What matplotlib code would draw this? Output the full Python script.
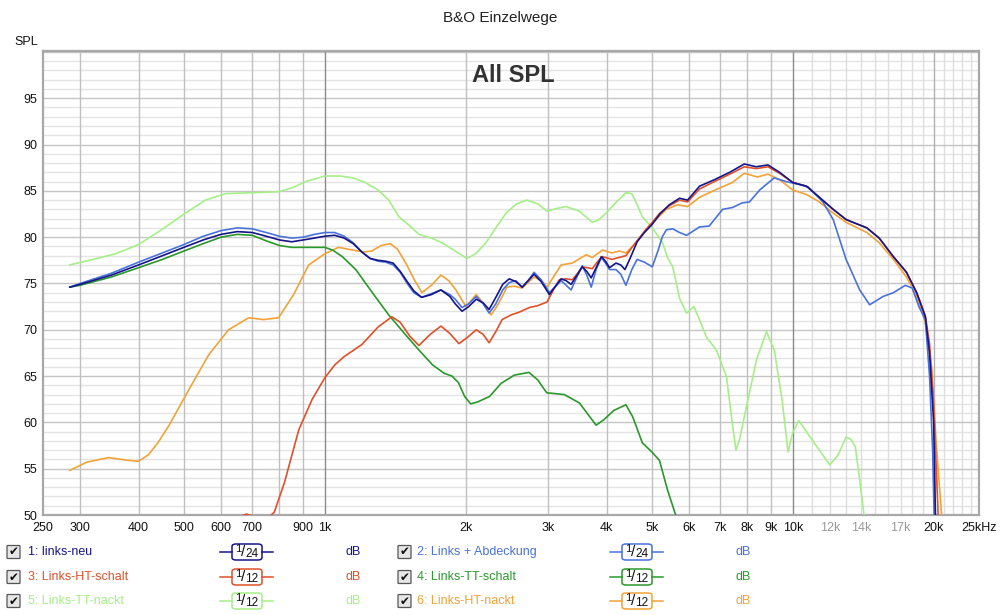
import matplotlib
matplotlib.use("Agg")
import matplotlib.pyplot as plt
from matplotlib.patches import FancyBboxPatch
from matplotlib.lines import Line2D

plt.rcParams['font.family'] = ['Liberation Sans', 'DejaVu Sans']

# ---------------- data ----------------
names = ["1: links-neu", "2: Links + Abdeckung", "3: Links-HT-schalt",
         "4: Links-TT-schalt", "5: Links-TT-nackt", "6: Links-HT-nackt"]
colors = ["#16168a", "#4a72dc", "#e0502a", "#2a982a", "#a6ee88", "#f2a238"]
smoothing = ["24", "24", "12", "12", "12", "12"]

f1 = [285, 300, 350, 400, 450, 500, 550, 600, 650, 700, 750, 800, 850, 900, 950, 1000, 1050, 1100, 1150,
      1200, 1250, 1300, 1350, 1400, 1450, 1500, 1550, 1610, 1690, 1770, 1850, 1900, 1965, 2030, 2107, 2180,
      2245, 2320, 2400, 2478, 2560, 2642, 2720, 2800, 2900, 3020, 3100, 3200, 3280, 3360, 3450, 3550, 3630,
      3710, 3800, 3900, 3980, 4060, 4190, 4290, 4380, 4500, 4650, 4820, 5010, 5200, 5450, 5730, 5960, 6320,
      6800, 7330, 7880, 8350, 8850, 9370, 10000, 10700, 11400, 12200, 13000, 14400, 15300, 16400, 17500,
      18400, 19200, 19600, 20000, 20250]
s1 = [74.6, 74.9, 75.9, 77.0, 78.0, 78.9, 79.7, 80.3, 80.6, 80.5, 80.1, 79.7, 79.5, 79.7, 79.9, 80.1, 80.2, 79.9, 79.3,
      78.4, 77.7, 77.5, 77.4, 77.2, 76.3, 75.2, 74.2, 73.5, 73.8, 74.3, 73.6, 72.8, 72.0, 72.5, 73.3, 72.9,
      72.2, 73.5, 74.9, 75.5, 75.2, 74.6, 75.3, 76.0, 75.2, 73.8, 74.6, 75.5, 75.3, 74.9, 75.8, 76.8, 76.3,
      75.6, 76.7, 77.9, 77.4, 76.7, 77.2, 77.0, 76.5, 77.8, 79.5, 80.5, 81.4, 82.5, 83.5, 84.2, 84.0, 85.5,
      86.2, 87.0, 87.9, 87.6, 87.8, 87.0, 85.9, 85.5, 84.3, 83.0, 81.9, 81.0, 79.9, 77.9, 76.2,
      74.0, 71.4, 67.5, 60.0, 46.0]

f2 = [285, 300, 350, 400, 450, 500, 550, 600, 650, 700, 750, 800, 850, 900, 950, 1000, 1050, 1100, 1150,
      1200, 1250, 1300, 1350, 1400, 1450, 1500, 1550, 1610, 1690, 1770, 1850, 1900, 1965, 2030, 2107, 2180,
      2245, 2320, 2400, 2478, 2560, 2642, 2720, 2800, 2900, 3020, 3100, 3200, 3280, 3360, 3450, 3550, 3630,
      3710, 3800, 3900, 3980, 4060, 4190, 4290, 4400, 4530, 4650, 4820, 5010, 5150, 5270, 5370, 5540, 5730,
      5930, 6320, 6630, 7080, 7430, 7800, 8080, 8500, 9130, 9670, 10300, 10800, 11600, 12200, 13000, 13900,
      14600, 15600, 16400, 17400, 18000, 18600, 19200, 19600, 19900, 20150]
s2 = [74.6, 75.0, 76.1, 77.3, 78.3, 79.2, 80.1, 80.7, 81.0, 80.9, 80.5, 80.1, 79.9, 80.0, 80.3, 80.5, 80.5, 80.1, 79.4,
      78.4, 77.7, 77.4, 77.3, 77.0, 76.2, 75.0, 74.0, 73.5, 73.9, 74.3, 73.8, 73.3, 72.4, 72.8, 73.6, 72.8,
      71.8, 72.8, 74.3, 75.1, 75.3, 74.6, 75.3, 76.2, 75.4, 74.0, 74.6, 75.3, 74.8, 74.3, 75.6, 76.9, 75.9,
      74.6, 76.5, 77.8, 77.2, 76.5, 76.5, 76.0, 74.8, 76.5, 77.6, 77.3, 76.8, 78.5, 80.1, 80.8, 80.9, 80.5,
      80.2, 81.1, 81.2, 83.0, 83.2, 83.7, 83.8, 85.1, 86.4, 86.0, 85.7, 85.4, 83.8, 81.9, 77.6, 74.3,
      72.7, 73.6, 74.0, 74.8, 74.5, 72.5, 71.1, 65.0, 57.0, 45.0]

f3 = [600, 640, 680, 720, 750, 780, 820, 880, 940, 1000, 1050, 1100, 1200, 1300, 1391, 1450, 1520, 1589, 1680,
      1771, 1850, 1935, 2020, 2107, 2180, 2245, 2320, 2393, 2500, 2603, 2735, 2850, 2985, 3080, 3170, 3280,
      3380, 3470, 3550, 3640, 3730, 3820, 3920, 4110, 4250, 4400, 4550, 4700, 4850, 5010, 5200, 5450, 5730,
      5960, 6320, 6800, 7330, 7880, 8350, 8850, 9370, 10000, 10700, 11400, 12200, 13000, 14400, 15300, 16400,
      17500, 18400, 19200, 19600, 20000, 20450, 20650]
s3 = [48.0, 49.6, 50.1, 49.7, 49.5, 50.3, 53.5, 59.2, 62.5, 64.8, 66.2, 67.1, 68.4, 70.3, 71.4, 70.8, 69.3, 68.3, 69.5,
      70.4, 69.6, 68.5, 69.2, 70.0, 69.5, 68.6, 69.8, 71.1, 71.6, 71.9, 72.4, 72.6, 73.0, 74.3, 75.4, 75.5,
      75.4, 76.1, 76.8, 76.7, 76.6, 77.3, 77.9, 77.6, 77.8, 78.0, 79.0, 79.9, 80.8, 81.6, 82.6, 83.4, 84.0,
      83.8, 85.2, 86.0, 86.8, 87.6, 87.4, 87.6, 86.9, 85.9, 85.5, 84.3, 83.0, 81.9, 81.0, 79.9, 77.9,
      76.2, 74.0, 71.5, 68.5, 62.0, 50.0, 45.0]

f4 = [285, 300, 350, 400, 450, 500, 550, 600, 650, 700, 750, 800, 850, 900, 950, 1000, 1040, 1090, 1165, 1260, 1370,
      1480, 1590, 1700, 1800, 1870, 1930, 1990, 2050, 2120, 2250, 2380, 2540, 2730, 2850, 2980, 3250, 3500,
      3800, 3950, 4150, 4400, 4550, 4770, 5000, 5190, 5400, 5620, 5700]
s4 = [74.6, 74.8, 75.7, 76.7, 77.6, 78.5, 79.3, 80.0, 80.3, 80.2, 79.6, 79.1, 78.9, 78.9, 78.9, 78.9, 78.6, 77.9, 76.5, 74.1, 71.6,
      69.6, 67.8, 66.2, 65.3, 65.0, 64.3, 62.8, 62.0, 62.2, 62.8, 64.2, 65.1, 65.4, 64.6, 63.2, 63.0, 62.1,
      59.7, 60.3, 61.3, 61.9, 60.6, 57.8, 56.8, 55.9, 52.7, 50.0, 48.0]

f5 = [285, 320, 357, 400, 448, 504, 556, 614, 698, 797, 860, 910, 1000, 1080, 1150, 1220, 1300, 1370, 1440, 1520,
      1590, 1690, 1780, 1900, 2013, 2100, 2210, 2320, 2440, 2570, 2705, 2850, 2985, 3130, 3280, 3500, 3730,
      3860, 3990, 4200, 4400, 4530, 4650, 4770, 5010, 5270, 5400, 5540, 5730, 5930, 6150, 6330, 6540, 6870,
      7220, 7400, 7560, 7700, 7940, 8370, 8790, 9130, 9490, 9770, 10000, 10300, 11000, 12000, 12500, 13000,
      13300, 13600, 13900, 14200, 14300]
s5 = [77.0, 77.6, 78.2, 79.2, 80.8, 82.6, 84.0, 84.7, 84.8, 84.9, 85.4, 86.0, 86.6, 86.6, 86.4, 85.9, 85.1, 84.0, 82.2, 81.2,
      80.3, 79.9, 79.4, 78.5, 77.7, 78.2, 79.4, 81.0, 82.6, 83.6, 84.0, 83.6, 82.8, 83.1, 83.3, 82.8, 81.6,
      81.9, 82.6, 83.8, 84.8, 84.7, 83.5, 82.2, 81.0, 79.4, 77.8, 76.8, 73.4, 71.8, 72.5, 71.0, 69.2, 67.8,
      64.9, 60.5, 57.0, 58.2, 61.4, 66.8, 69.8, 67.8, 62.4, 56.8, 58.9, 60.2, 58.1, 55.4, 56.5, 58.4,
      58.2, 57.4, 53.8, 50.0, 48.0]

f6 = [285, 310, 345, 380, 400, 420, 440, 465, 512, 565, 623, 688, 740, 797, 858, 924, 1000, 1070, 1150, 1210, 1260,
      1320, 1380, 1430, 1490, 1550, 1613, 1690, 1771, 1840, 1907, 2003, 2107, 2180, 2267, 2350, 2450, 2540,
      2642, 2800, 2900, 2985, 3080, 3200, 3380, 3620, 3730, 3920, 4110, 4260, 4400, 4550, 4700, 5010, 5200,
      5370, 5670, 5960, 6320, 6830, 7430, 7880, 8400, 8850, 9370, 10000, 10700, 11400, 12200, 13000, 14400,
      15300, 16400, 17500, 18400, 19200, 19800, 20300, 20800, 21000]
s6 = [54.8, 55.7, 56.2, 55.9, 55.8, 56.5, 57.8, 59.7, 63.5, 67.3, 70.0, 71.3, 71.1, 71.3, 73.8, 77.0, 78.2, 78.9, 78.6, 78.4, 78.5,
      79.1, 79.3, 78.7, 77.2, 75.5, 74.0, 74.8, 75.9, 75.3, 74.3, 72.5, 73.8, 72.9, 71.6, 72.8, 74.6, 74.7,
      74.5, 75.7, 75.3, 74.6, 75.7, 77.0, 77.2, 78.1, 77.8, 78.6, 78.3, 78.5, 78.3, 79.0, 79.9, 81.5, 82.3,
      83.0, 83.5, 83.3, 84.3, 85.1, 85.9, 86.9, 86.5, 86.8, 86.2, 85.1, 84.6, 83.8, 82.6, 81.6, 80.5,
      79.4, 77.6, 75.7, 73.6, 70.8, 66.0, 57.0, 50.0, 47.0]

freqs = [f1, f2, f3, f4, f5, f6]
series = [s1, s2, s3, s4, s5, s6]

xtick_vals = [250, 300, 400, 500, 600, 700, 900, 1000, 2000, 3000, 4000, 5000, 6000, 7000, 8000, 9000,
              10000, 12000, 14000, 17000, 20000, 25000]
xtick_labels = ["250", "300", "400", "500", "600", "700", "900", "1k", "2k", "3k", "4k", "5k", "6k", "7k",
                "8k", "9k", "10k", "12k", "14k", "17k", "20k", "25kHz"]
ytick_vals = [50, 55, 60, 65, 70, 75, 80, 85, 90, 95]

# ---------------- figure ----------------
W, H = 1000, 615
fig = plt.figure(figsize=(10, 6.15), dpi=100)
fig.patch.set_facecolor("white")

def fx(x):
    return x / W

def fy(y):
    return 1 - y / H

L, R, T, B = 43, 979, 51, 515
ax = fig.add_axes([fx(L), fy(B), (R - L) / W, (B - T) / H])
ax.set_xscale("log")
ax.set_xlim(250, 25000)
ax.set_ylim(50, 100.1)

# grid
for v in range(51, 101):
    if v % 5 == 0:
        ax.axhline(v, color="#c4c4c4", lw=1.0, zorder=1)
    else:
        ax.axhline(v, color="#e4e4e4", lw=1.0, zorder=0.5)
grid_major = [300, 400, 500, 600, 700, 800, 900, 2000, 3000, 4000, 5000, 6000, 7000, 8000, 9000]
for g in grid_major:
    ax.axvline(g, color="#c0c0c0", lw=1.0, zorder=1)
for g in range(11000, 25000, 1000):
    if g == 20000:
        ax.axvline(g, color="#b0b0b0", lw=1.0, zorder=1)
    else:
        ax.axvline(g, color="#dedede", lw=1.0, zorder=0.8)
for g in [1000, 10000]:
    ax.axvline(g, color="#8a8a8a", lw=1.0, zorder=1.2)

# curves (series 1 on top)
for i in reversed(range(6)):
    ax.plot(freqs[i], series[i], color=colors[i], lw=1.2, zorder=3 + (6 - i) * 0.1,
            solid_joinstyle="round", solid_capstyle="round")

ax.set_xticks(xtick_vals)
ax.set_xticklabels(xtick_labels)
ax.xaxis.set_minor_locator(matplotlib.ticker.NullLocator())
ax.set_yticks(ytick_vals)
ax.set_yticklabels([str(v) for v in ytick_vals])
ax.tick_params(axis="both", length=0, labelsize=9, colors="#111111", pad=4)
ax.tick_params(axis="x", pad=5)
for lab in ax.get_xticklabels():
    if lab.get_text() in ("12k", "14k", "17k"):
        lab.set_color("#9a9a9a")

for sp in ax.spines.values():
    sp.set_color("#a8a8a8")
    sp.set_linewidth(1.6)

ax.text(0.503, 0.972, "All SPL", transform=ax.transAxes, ha="center", va="top",
        fontsize=17, fontweight="bold", color="#333333")

fig.text(fx(500), fy(18), "B&O Einzelwege", ha="center", va="center", fontsize=11, color="#222222")
fig.text(fx(14), fy(42), "SPL", ha="left", va="center", fontsize=9, color="#111111")

# ---------------- legend ----------------
rows_y = [552, 577, 601]
layout = [(0, 0), (1, 0), (0, 1), (1, 1), (0, 2), (1, 2)]
col_cb = [7, 398]
col_txt = [28, 417]
col_badge = [(220, 232, 262, 273), (610, 622, 652, 663)]
col_db = [353, 743]

for i, (c, r) in enumerate(layout):
    y = rows_y[r]
    cb = FancyBboxPatch((fx(col_cb[c]), fy(y + 6.5)), 13 / W, 13 / H,
                        boxstyle="round,pad=0,rounding_size=0.001",
                        transform=fig.transFigure, facecolor="#e6e6e6", edgecolor="#555555", lw=0.9)
    fig.add_artist(cb)
    fig.text(fx(col_cb[c] + 6.8), fy(y), "\u2714", ha="center", va="center", fontsize=8.5,
             color="#111111", family=["DejaVu Sans"])
    fig.text(fx(col_txt[c]), fy(y), names[i], ha="left", va="center", fontsize=9, color=colors[i])
    x0, b0, b1, x1 = col_badge[c]
    fig.add_artist(Line2D([fx(x0), fx(b0)], [fy(y), fy(y)], transform=fig.transFigure,
                          color=colors[i], lw=1.1))
    fig.add_artist(Line2D([fx(b1), fx(x1)], [fy(y), fy(y)], transform=fig.transFigure,
                          color=colors[i], lw=1.1))
    badge = FancyBboxPatch((fx(b0), fy(y + 8)), (b1 - b0) / W, 16 / H,
                           boxstyle="round,pad=0,rounding_size=0.004",
                           transform=fig.transFigure, facecolor="white", edgecolor=colors[i], lw=1.1)
    fig.add_artist(badge)
    fig.text(fx(b0 + 6), fy(y - 3), "1", ha="center", va="center", fontsize=8, color="#111111")
    fig.text(fx(b0 + 11), fy(y), "/", ha="center", va="center", fontsize=11, color="#111111")
    fig.text(fx(b0 + 20), fy(y + 2), smoothing[i], ha="center", va="center", fontsize=8.5, color="#111111")
    fig.text(fx(col_db[c]), fy(y), "dB", ha="center", va="center", fontsize=9, color=colors[i])

fig.savefig("out.png", dpi=100, facecolor="white")
